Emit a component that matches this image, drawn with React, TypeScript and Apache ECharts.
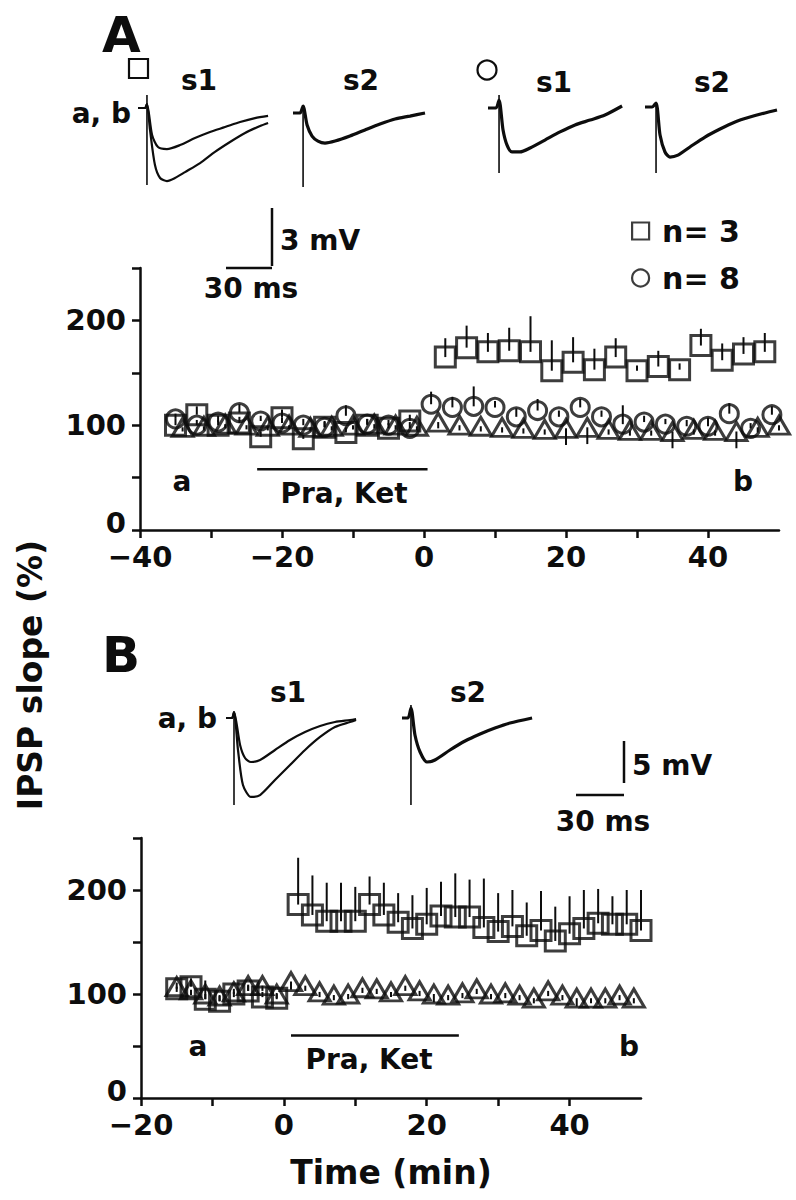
import React, { useEffect, useRef } from "react";
import * as echarts from "echarts";

const FONT = '"DejaVu Sans", "Liberation Sans", sans-serif';
const INK = "#0d0d0d";

// ---------------- Panel A: IPSP slope (%) vs time (min)
const aSquareTime = [-35, -32, -29, -26, -23, -20, -17, -14, -11, -8, -5, -2, 3, 6, 9, 12, 15, 18, 21, 24, 27, 30, 33, 36, 39, 42, 45, 48];
const aSquareSlope = [100, 110, 100, 102, 89, 107, 87, 98, 93, 100, 97, 104, 165, 174, 170, 171, 170, 152, 160, 153, 165, 152, 156, 153, 176, 162, 168, 170];
const aSquareSem = [6, 8, 5, 6, 5, 8, 4, 6, 5, 6, 5, 6, 18, 21, 18, 22, 34, 29, 24, 20, 18, 5, 15, 6, 16, 16, 16, 18];

const aCircleTime = [-35, -32, -29, -26, -23, -20, -17, -14, -11, -8, -5, -2, 1, 4, 7, 10, 13, 16, 19, 22, 25, 28, 31, 34, 37, 40, 43, 46, 49];
const aCircleSlope = [106, 100, 103, 112, 104, 102, 100, 98, 109, 101, 100, 97, 120, 117, 118, 117, 108, 114, 108, 117, 108, 101, 103, 101, 99, 99, 111, 97, 110];
const aCircleSem = [5, 5, 6, 8, 5, 5, 6, 5, 10, 5, 5, 6, 12, 10, 19, 6, 8, 11, 6, 8, 6, 18, 6, 5, 6, 8, 10, 5, 8];

const aTriangleTime = [-34, -31, -28, -25, -22, -19, -16, -13, -10, -7, -4, -1, 2, 5, 8, 11, 14, 17, 20, 23, 26, 29, 32, 35, 38, 41, 44, 47, 50];
const aTriangleSlope = [98, 99, 101, 100, 99, 100, 98, 99, 100, 101, 100, 99, 103, 100, 99, 98, 97, 96, 97, 98, 96, 95, 95, 94, 96, 95, 94, 98, 100];
const aTriangleSem = [4, 4, 4, 4, 4, 4, 4, 4, 4, 4, 4, 4, 6, 5, 5, 5, 5, 5, 16, 16, 5, 5, 5, 16, 5, 5, 16, 5, 5];

const aDrugStart = -23.5;
const aDrugEnd = 0.5;
const aDrugLevel = 58;

// ---------------- Panel B
const bSquareTime = [-15, -13, -11, -9, -7, -5, -3, -1, 2, 4, 6, 8, 10, 12, 14, 16, 18, 20, 22, 24, 26, 28, 30, 32, 34, 36, 38, 40, 42, 44, 46, 48, 50];
const bSquareSlope = [105, 107, 95, 93, 100, 103, 97, 96, 186, 176, 170, 170, 170, 186, 176, 169, 163, 167, 175, 174, 174, 164, 160, 165, 156, 161, 151, 158, 163, 168, 167, 167, 161];
const bSquareSem = [6, 8, 18, 6, 5, 6, 5, 5, 45, 38, 37, 37, 33, 27, 31, 28, 32, 35, 33, 42, 36, 47, 37, 35, 32, 38, 33, 36, 37, 33, 27, 33, 39];

const bTriangleTime = [-15, -13, -11, -9, -7, -5, -3, -1, 1, 3, 5, 7, 9, 11, 13, 15, 17, 19, 21, 23, 25, 27, 29, 31, 33, 35, 37, 39, 41, 43, 45, 47, 49];
const bTriangleSlope = [107, 104, 100, 98, 102, 108, 108, 100, 112, 108, 102, 99, 100, 106, 105, 102, 108, 103, 100, 99, 101, 105, 100, 101, 99, 96, 103, 99, 96, 96, 96, 99, 96];
const bTriangleSem = [5, 5, 5, 5, 5, 5, 5, 5, 8, 5, 5, 5, 5, 5, 5, 5, 5, 5, 8, 5, 5, 5, 5, 5, 5, 5, 5, 5, 8, 5, 5, 5, 5];

const bDrugStart = 1;
const bDrugEnd = 24.5;
const bDrugLevel = 60;

// ---------------- Example traces: [time (ms), potential (mV)]
const trAsqS1a = [[0, 0], [4.4, 0], [5.6, 0.22], [7.5, -1.22], [10.6, -3.17], [13.8, -3.89], [18.1, -4.06], [23.1, -3.89], [29.4, -3.56], [38.8, -3.06], [48.1, -2.44], [57.5, -1.89], [66.9, -1.39], [76.3, -1.0], [81.3, -0.83]];
const trAsqS1b = [[0, 0], [4.4, 0], [5.6, 0.22], [8.8, -1.5], [12.5, -2.17], [18.1, -2.28], [26.3, -2.06], [35.6, -1.67], [45, -1.33], [54.4, -1.06], [63.8, -0.78], [73.1, -0.56], [81.3, -0.44]];
const trAsqS1art = [[5.6, 0.72], [5.6, -4.28]];
const trAsqS2 = [[0, 0], [4.4, 0], [6.3, 0.39], [8.8, -0.67], [11.9, -1.28], [15.6, -1.56], [20, -1.67], [26.3, -1.56], [35.6, -1.28], [45, -0.94], [54.4, -0.61], [63.8, -0.33], [73.1, -0.17], [82.5, 0]];
const trAsqS2art = [[6.3, 0.44], [6.3, -4.11]];
const trAciS1 = [[0, 0], [5, 0], [6.9, 0.44], [9.4, -1.22], [11.9, -2.06], [15, -2.44], [20, -2.44], [26.3, -2.22], [35.6, -1.78], [45, -1.33], [54.4, -0.94], [63.8, -0.67], [73.1, -0.39], [83.8, 0.11]];
const trAciS1art = [[6.9, 0.72], [6.9, -3.61]];
const trAciS2 = [[0, 0], [4.4, 0], [6.9, 0.22], [9.4, -1.56], [12.5, -2.5], [15.6, -2.78], [20.6, -2.67], [28.1, -2.22], [37.5, -1.67], [46.9, -1.22], [56.3, -0.83], [65.6, -0.56], [75, -0.33], [82.5, -0.17]];
const trAciS2art = [[6.9, 0.11], [6.9, -3.67]];
const trBS1a = [[0, 0], [3.75, 0], [5, 0.71], [7.5, -3.81], [10.6, -7.98], [15.6, -9.4], [21.3, -9.17], [30.6, -7.38], [40, -5.6], [49.4, -3.81], [58.8, -2.26], [68.1, -1.07], [77.5, -0.48], [81.3, -0.24]];
const trBS1b = [[0, 0], [3.75, 0], [5, 0.71], [8.8, -3.21], [11.9, -4.76], [15.6, -5.24], [21.3, -5], [30.6, -3.81], [40, -2.62], [49.4, -1.67], [58.8, -0.95], [68.1, -0.48], [77.5, -0.24], [81.3, -0.12]];
const trBS1art = [[5, 0.36], [5, -10.36]];
const trBS2 = [[0, 0], [3.75, 0], [5.6, 1.19], [8.1, -2.02], [11.3, -4.05], [15.6, -5.24], [20.6, -5], [30, -3.81], [39.4, -2.74], [48.8, -1.9], [58.1, -1.19], [67.5, -0.6], [81.3, 0]];
const trBS2art = [[5.6, 1.55], [5.6, -10.36]];

// trace panel placement (layout)
const traceBoxes = [
  { x0: 138, y0: 108, pxMs: 1.6, pxMv: 18, mvMin: -6, mvMax: 1.5 },
  { x0: 293, y0: 113, pxMs: 1.6, pxMv: 18, mvMin: -6, mvMax: 1.5 },
  { x0: 488, y0: 108, pxMs: 1.6, pxMv: 18, mvMin: -6, mvMax: 1.5 },
  { x0: 645, y0: 107, pxMs: 1.6, pxMv: 18, mvMin: -6, mvMax: 1.5 },
  { x0: 226, y0: 718, pxMs: 1.6, pxMv: 8.4, mvMin: -12, mvMax: 2 },
  { x0: 402, y0: 718, pxMs: 1.6, pxMv: 8.4, mvMin: -12, mvMax: 2 },
];

const zip = (t: number[], v: number[]) => t.map((x, i) => [x, v[i]]);
const errData = (t: number[], v: number[], e: number[], dir: number) => t.map((x, i) => [x, v[i], v[i] + dir * e[i]]);

const xTickFmt = (v: number) => (v % 20 === 0 ? (v < 0 ? "\u2212" + Math.abs(v) : String(v)) : "");
const yTickFmt = (v: number) => (v === 0 ? "{z|0}" : v % 100 === 0 ? String(v) : "");

function errSeries(axis: number, data: number[][]) {
  return {
    type: "custom",
    xAxisIndex: axis,
    yAxisIndex: axis,
    silent: true,
    z: 2,
    data,
    encode: { x: 0, y: [1, 2] },
    renderItem: (params: any, api: any) => {
      const p0 = api.coord([api.value(0), api.value(1)]);
      const p1 = api.coord([api.value(0), api.value(2)]);
      return {
        type: "line",
        shape: { x1: p0[0], y1: p0[1], x2: p1[0], y2: p1[1] },
        style: { stroke: INK, lineWidth: 2 },
      };
    },
  };
}

const hollow = { color: "rgba(255,255,255,0)", borderColor: INK, borderWidth: 3 };

function scatter(name: string, axis: number, data: number[][], symbol: string, size: any) {
  return {
    name,
    type: "scatter",
    xAxisIndex: axis,
    yAxisIndex: axis,
    data,
    symbol,
    symbolSize: size,
    itemStyle: hollow,
    z: 3,
    silent: true,
  };
}

function lineSeries(axis: number, data: number[][], width: number, smooth = 0.25) {
  return {
    type: "line",
    xAxisIndex: axis,
    yAxisIndex: axis,
    data,
    showSymbol: false,
    symbol: "none",
    smooth,
    lineStyle: { color: INK, width },
    silent: true,
    z: 4,
  };
}

const axisFont = { fontFamily: FONT, fontSize: 29, fontWeight: "bold", color: INK };

function mainXAxis(grid: number, min: number, max: number) {
  return {
    type: "value",
    gridIndex: grid,
    min,
    max,
    interval: 10,
    axisLine: { onZero: false, lineStyle: { color: INK, width: 2.5 } },
    axisTick: { length: 8, lineStyle: { color: INK, width: 2.5 } },
    splitLine: { show: false },
    axisLabel: { ...axisFont, margin: 12, formatter: xTickFmt, showMaxLabel: false },
  };
}
function mainYAxis(grid: number) {
  return {
    type: "value",
    gridIndex: grid,
    min: 0,
    max: 250,
    interval: 50,
    axisLine: { show: true, onZero: false, lineStyle: { color: INK, width: 2.5 } },
    axisTick: { show: true, length: 8, lineStyle: { color: INK, width: 2.5 } },
    splitLine: { show: false },
    axisLabel: {
      ...axisFont,
      margin: 14,
      formatter: yTickFmt,
      rich: { z: { ...axisFont, padding: [0, 0, 14, 0] } },
    },
  };
}

function txt(text: string, x: number, y: number, size: number, align = "center", vAlign = "middle", extra: any = {}) {
  return {
    type: "text",
    x,
    y,
    silent: true,
    ...extra,
    style: {
      text,
      font: `bold ${size}px ${FONT}`,
      fill: INK,
      align,
      verticalAlign: vAlign,
      textAlign: align,
      textVerticalAlign: vAlign,
    },
  };
}
const seg = (x1: number, y1: number, x2: number, y2: number, w = 2.5) => ({
  type: "line",
  silent: true,
  shape: { x1, y1, x2, y2 },
  style: { stroke: INK, lineWidth: w },
});

export default function App() {
  const ref = useRef<HTMLDivElement>(null);
  useEffect(() => {
    if (!ref.current) return;
    const chart = echarts.init(ref.current, undefined, { renderer: "svg" });

    const grids: any[] = [
      { left: 140, top: 268, width: 639, height: 262 },
      { left: 141, top: 838, width: 500, height: 260 },
    ];
    const xAxes: any[] = [
      mainXAxis(0, -40, 50),
      { ...mainXAxis(1, -20, 50), name: "Time (min)", nameLocation: "middle", nameGap: 58, nameTextStyle: { ...axisFont, fontSize: 33 } },
    ];
    const yAxes: any[] = [mainYAxis(0), mainYAxis(1)];

    traceBoxes.forEach((b) => {
      const w = 90 * b.pxMs;
      grids.push({ left: b.x0, top: b.y0 - b.mvMax * b.pxMv, width: w, height: (b.mvMax - b.mvMin) * b.pxMv });
      const gi = grids.length - 1;
      xAxes.push({ type: "value", gridIndex: gi, min: 0, max: 90, show: false });
      yAxes.push({ type: "value", gridIndex: gi, min: b.mvMin, max: b.mvMax, show: false });
    });

    const series: any[] = [
      // Panel A
      errSeries(0, errData(aSquareTime, aSquareSlope, aSquareSem, 1)),
      errSeries(0, errData(aCircleTime, aCircleSlope, aCircleSem, 1)),
      errSeries(0, errData(aTriangleTime, aTriangleSlope, aTriangleSem, -1)),
      scatter("s2 control A", 0, zip(aTriangleTime, aTriangleSlope), "triangle", [21, 18]),
      scatter("n= 8", 0, zip(aCircleTime, aCircleSlope), "circle", 18),
      scatter("n= 3", 0, zip(aSquareTime, aSquareSlope), "rect", 20),
      lineSeries(0, [[aDrugStart, aDrugLevel], [aDrugEnd, aDrugLevel]], 2.5, 0),
      // Panel B
      errSeries(1, errData(bSquareTime, bSquareSlope, bSquareSem, 1)),
      errSeries(1, errData(bTriangleTime, bTriangleSlope, bTriangleSem, -1)),
      scatter("s2 control B", 1, zip(bTriangleTime, bTriangleSlope), "triangle", [21, 18]),
      scatter("s1 B", 1, zip(bSquareTime, bSquareSlope), "rect", 20),
      lineSeries(1, [[bDrugStart, bDrugLevel], [bDrugEnd, bDrugLevel]], 2.5, 0),
      // Traces
      lineSeries(2, trAsqS1a, 2.2),
      lineSeries(2, trAsqS1b, 2.2),
      lineSeries(2, trAsqS1art, 1.6, 0),
      lineSeries(3, trAsqS2, 3.2),
      lineSeries(3, trAsqS2art, 1.6, 0),
      lineSeries(4, trAciS1, 3.2),
      lineSeries(4, trAciS1art, 1.6, 0),
      lineSeries(5, trAciS2, 3.2),
      lineSeries(5, trAciS2art, 1.6, 0),
      lineSeries(6, trBS1a, 2.2),
      lineSeries(6, trBS1b, 2.2),
      lineSeries(6, trBS1art, 1.6, 0),
      lineSeries(7, trBS2, 3.2),
      lineSeries(7, trBS2art, 1.6, 0),
    ];

    const graphic: any[] = [
      txt("A", 102, 10, 50, "left", "top"),
      { type: "rect", silent: true, shape: { x: 129, y: 59, width: 19, height: 19 }, style: { fill: "none", stroke: INK, lineWidth: 2.2 } },
      txt("s1", 199, 80, 28),
      txt("s2", 361, 80, 28),
      { type: "circle", silent: true, shape: { cx: 487, cy: 70, r: 9.5 }, style: { fill: "none", stroke: INK, lineWidth: 2.2 } },
      txt("s1", 554, 82, 28),
      txt("s2", 712, 82, 28),
      txt("a, b", 131, 113, 28, "right"),
      // scale bar A
      seg(272, 208, 272, 266),
      seg(226, 268, 272, 268),
      txt("3 mV", 280, 240, 28, "left"),
      txt("30 ms", 251, 288, 28),
      // panel A annotations
      txt("a", 182, 481, 28),
      txt("b", 743, 481, 28),
      txt("Pra, Ket", 344, 493, 28),
      // panel B
      txt("B", 102, 630, 50, "left", "top"),
      txt("a, b", 217, 718, 28, "right"),
      txt("s1", 288, 692, 28),
      txt("s2", 468, 692, 28),
      seg(624, 741, 624, 783),
      seg(576, 795, 624, 795),
      txt("5 mV", 632, 765, 28, "left"),
      txt("30 ms", 603, 821, 28),
      txt("a", 198, 1046, 28),
      txt("b", 629, 1046, 28),
      txt("Pra, Ket", 369, 1059, 28),
      // shared y title
      txt("IPSP slope (%)", 30, 675, 33, "center", "middle", { rotation: Math.PI / 2 }),
    ];

    chart.setOption({
      animation: false,
      backgroundColor: "#ffffff",
      grid: grids,
      xAxis: xAxes,
      yAxis: yAxes,
      legend: {
        data: [
          { name: "n= 3", icon: "rect" },
          { name: "n= 8", icon: "circle" },
        ],
        orient: "vertical",
        left: 626,
        top: 211,
        itemWidth: 17,
        itemHeight: 17,
        itemGap: 17,
        selectedMode: false,
        itemStyle: { color: "rgba(255,255,255,0)", borderColor: INK, borderWidth: 2.2 },
        textStyle: { ...axisFont, fontSize: 30, padding: [0, 0, 0, 8] },
      },
      series,
      graphic,
    });
    return () => chart.dispose();
  }, []);
  return <div ref={ref} style={{ position: "absolute", left: 0, top: 0, width: 796, height: 1200, background: "#fff" }} />;
}
